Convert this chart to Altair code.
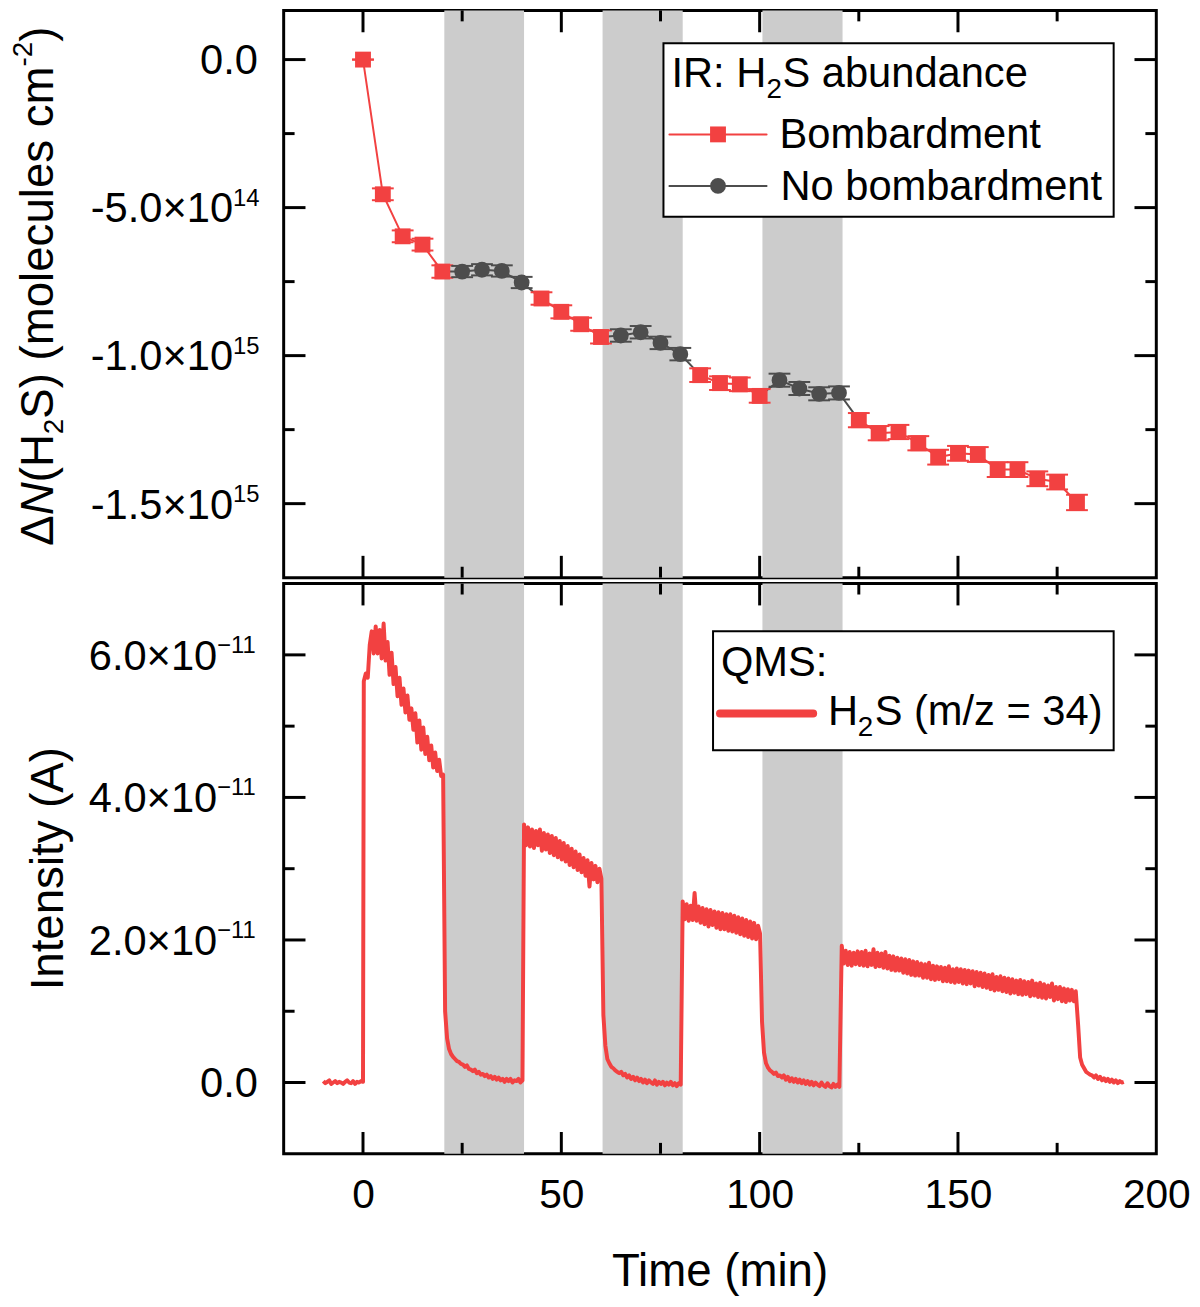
import altair as alt
import pandas as pd

FONT = "Liberation Sans"
RED = "#F24141"
DARK = "#4D4D4D"
BAND = "#CCCCCC"

W = 880
H_TOP = 572
H_BOT = 575

# ---------------- IR: H2S abundance (top panel) ----------------
bomb_t = [0, 5, 10, 15, 20, 45, 50, 55, 60, 85, 90, 95, 100,
          125, 130, 135, 140, 145, 150, 155, 160, 165, 170, 175, 180]
bomb_n = [0.0, -4.55e14, -5.97e14, -6.25e14, -7.16e14,
          -8.07e14, -8.52e14, -8.94e14, -9.37e14,
          -1.066e15, -1.093e15, -1.097e15, -1.136e15,
          -1.218e15, -1.262e15, -1.258e15, -1.296e15, -1.343e15, -1.330e15,
          -1.334e15, -1.385e15, -1.385e15, -1.416e15, -1.427e15, -1.496e15]
bomb_err = [0.0, 2.0e13, 2.0e13, 2.0e13, 2.1e13,
            2.1e13, 2.2e13, 2.2e13, 2.2e13,
            2.3e13, 2.3e13, 2.3e13, 2.3e13,
            2.4e13, 2.4e13, 2.4e13, 2.4e13, 2.5e13, 2.5e13,
            2.5e13, 2.5e13, 2.5e13, 2.5e13, 2.5e13, 2.6e13]
bomb_run = [1] * 5 + [2] * 4 + [3] * 4 + [4] * 12

nob_t = [25, 30, 35, 40, 65, 70, 75, 80, 105, 110, 115, 120]
nob_n = [-7.16e14, -7.10e14, -7.14e14, -7.53e14,
         -9.32e14, -9.21e14, -9.57e14, -9.95e14,
         -1.083e15, -1.111e15, -1.129e15, -1.126e15]
nob_err = [1.9e13] * 4 + [2.1e13] * 4 + [2.2e13] * 4
nob_run = [1] * 4 + [2] * 4 + [3] * 4

# beam-off windows (min)
band_start = [20.5, 60.4, 100.7]
band_end = [40.6, 80.6, 120.9]

# ---------------- QMS m/z = 34 (bottom panel), units of 1e-11 A ----------------
QMS_STEP = 0.5
qms_start = [-10.0, 0.2, 20.7, 40.6, 60.6, 80.6, 100.6, 120.7, 180.3]
qms_base0 = [0.02, -0.01, 0.01, 0.03, -0.02, 0.00, 0.02, -0.01, 0.01, 0.00,
             -0.02, 0.01, 0.03, 0.00, -0.01, 0.02, -0.02, 0.01, 0.00, 0.02, 0.01]
qms_on1 = [5.63, 5.74, 5.68, 6.14, 6.33, 6.02, 6.40, 6.02, 6.35, 5.95,
           6.44, 5.92, 6.18, 5.72, 6.03, 5.59, 5.83, 5.42, 5.68, 5.30,
           5.53, 5.19, 5.43, 5.09, 5.25, 4.95, 5.18, 4.77, 5.08, 4.67,
           4.98, 4.61, 4.85, 4.52, 4.73, 4.42, 4.63, 4.37, 4.53, 4.30, 4.32]
qms_off1 = [1.00, 0.62, 0.47, 0.40, 0.36, 0.33, 0.30, 0.29, 0.26, 0.25,
            0.22, 0.24, 0.19, 0.18, 0.16, 0.18, 0.13, 0.15, 0.11, 0.12,
            0.09, 0.11, 0.07, 0.09, 0.05, 0.08, 0.04, 0.07, 0.03, 0.05,
            0.01, 0.05, 0.02, 0.05, 0.00, 0.03, 0.02, 0.05, 0.00, 0.03]
qms_on2 = [3.62, 3.33, 3.58, 3.31, 3.55, 3.29, 3.53, 3.33, 3.55, 3.25,
           3.50, 3.27, 3.48, 3.22, 3.46, 3.19, 3.43, 3.16, 3.39, 3.13,
           3.36, 3.10, 3.32, 3.05, 3.28, 3.02, 3.24, 2.98, 3.20, 2.95,
           3.15, 2.90, 3.12, 2.75, 3.08, 2.85, 3.04, 2.81, 3.00, 2.86]
qms_off2 = [0.95, 0.52, 0.33, 0.27, 0.22, 0.20, 0.17, 0.15, 0.13, 0.15,
            0.10, 0.12, 0.07, 0.10, 0.05, 0.08, 0.03, 0.07, 0.02, 0.05,
            0.00, 0.04, -0.01, 0.03, 0.00, -0.02, 0.03, -0.03, 0.01, -0.02,
            0.01, -0.04, 0.00, -0.03, 0.01, -0.04, -0.01, -0.05, -0.01, -0.03]
qms_on3 = [2.54, 2.29, 2.50, 2.27, 2.48, 2.28, 2.66, 2.27, 2.47, 2.24,
           2.45, 2.22, 2.43, 2.19, 2.42, 2.21, 2.40, 2.17, 2.39, 2.15,
           2.38, 2.15, 2.36, 2.13, 2.36, 2.12, 2.34, 2.10, 2.32, 2.08,
           2.30, 2.06, 2.28, 2.04, 2.26, 2.02, 2.24, 2.01, 2.20, 2.09]
qms_off3 = [0.85, 0.42, 0.27, 0.21, 0.17, 0.15, 0.12, 0.14, 0.09, 0.10,
            0.07, 0.10, 0.04, 0.08, 0.02, 0.06, 0.01, 0.05, 0.00, 0.04,
            -0.01, 0.03, -0.02, 0.02, -0.03, 0.01, -0.04, 0.00, -0.03, -0.05,
            0.00, -0.04, -0.06, -0.01, -0.05, -0.07, -0.02, -0.06, -0.03, -0.06]
qms_on4 = [1.92, 1.67, 1.85, 1.65, 1.83, 1.64, 1.82, 1.66, 1.84, 1.65,
           1.83, 1.64, 1.85, 1.63, 1.81, 1.65, 1.87, 1.62, 1.82, 1.63,
           1.81, 1.61, 1.83, 1.60, 1.78, 1.58, 1.77, 1.57, 1.75, 1.57,
           1.74, 1.54, 1.73, 1.53, 1.72, 1.51, 1.70, 1.50, 1.69, 1.50,
           1.67, 1.47, 1.66, 1.47, 1.68, 1.45, 1.64, 1.44, 1.63, 1.45,
           1.62, 1.42, 1.61, 1.42, 1.63, 1.41, 1.59, 1.40, 1.60, 1.41,
           1.59, 1.39, 1.58, 1.38, 1.57, 1.39, 1.56, 1.35, 1.55, 1.36,
           1.54, 1.34, 1.53, 1.33, 1.51, 1.31, 1.52, 1.29, 1.48, 1.30,
           1.49, 1.28, 1.47, 1.27, 1.46, 1.25, 1.45, 1.26, 1.43, 1.24,
           1.44, 1.23, 1.42, 1.24, 1.41, 1.21, 1.43, 1.22, 1.39, 1.20,
           1.40, 1.19, 1.38, 1.18, 1.36, 1.20, 1.39, 1.15, 1.34, 1.17,
           1.34, 1.14, 1.32, 1.13, 1.31, 1.15, 1.30, 1.14, 1.28]
qms_off4 = [0.80, 0.35, 0.25, 0.20, 0.15, 0.13, 0.11, 0.10, 0.07, 0.10,
            0.05, 0.08, 0.03, 0.06, 0.02, 0.05, 0.01, 0.04, 0.00, 0.03,
            -0.01, 0.02, 0.00, 0.01]
qms_parts = [qms_base0, qms_on1, qms_off1, qms_on2, qms_off2,
             qms_on3, qms_off3, qms_on4, qms_off4]

# axis ticks / labels
x_major = [0, 50, 100, 150]
x_minor = [25, 75, 125, 175]
top_major = [0.0, -5e14, -1e15, -1.5e15]
top_minor = [-2.5e14, -7.5e14, -1.25e15]
top_main = ["0.0", "-5.0×10", "-1.0×10", "-1.5×10"]
top_sup = ["", "14", "15", "15"]
bot_major = [0.0, 2e-11, 4e-11, 6e-11]
bot_minor = [1e-11, 3e-11, 5e-11]
bot_main = ["0.0", "2.0×10", "4.0×10", "6.0×10"]
bot_sup = ["", "−11", "−11", "−11"]

# ---------------- frames ----------------
bomb = pd.DataFrame({"t": bomb_t, "v": bomb_n, "run": bomb_run})
bomb["lo"] = bomb["v"] - pd.Series(bomb_err)
bomb["hi"] = bomb["v"] + pd.Series(bomb_err)
nob = pd.DataFrame({"t": nob_t, "v": nob_n, "run": nob_run})
nob["lo"] = nob["v"] - pd.Series(nob_err)
nob["hi"] = nob["v"] + pd.Series(nob_err)

# grey connector: last bombarded point -> beam-off points -> next bombarded point
grey_rows = []
for r in sorted(set(nob_run)):
    prev = bomb[bomb["run"] == r].iloc[-1]
    nxt = bomb[bomb["run"] == r + 1].iloc[0]
    grey_rows.append((prev["t"], prev["v"], r))
    for _, p in nob[nob["run"] == r].iterrows():
        grey_rows.append((p["t"], p["v"], r))
    grey_rows.append((nxt["t"], nxt["v"], r))
grey = pd.DataFrame(grey_rows, columns=["t", "v", "run"])

qms_rows = []
for t0, part in zip(qms_start, qms_parts):
    for i, val in enumerate(part):
        qms_rows.append((t0 + i * QMS_STEP, val * 1e-11))
qms = pd.DataFrame(qms_rows, columns=["t", "v"])

bands = pd.DataFrame({"s": band_start, "e": band_end})
ONE = pd.DataFrame({"k": [0]})

XSCALE = alt.Scale(domain=[-20, 200], nice=False, zero=False)
TOP_Y = alt.Scale(domain=[-1.75e15, 1.66e14], nice=False, zero=False)
BOT_Y = alt.Scale(domain=[-1e-11, 7e-11], nice=False, zero=False)

X_AXIS = alt.Axis(values=[0, 50, 100, 150, 200], labelFont=FONT, labelFontSize=41,
                  labelColor="black", labelPadding=22, ticks=False, domain=False,
                  grid=False, title=None, labelFlush=False, labelOverlap=False)


def xe(field, axis):
    return alt.X(field, type="quantitative", scale=XSCALE, axis=axis)


def ye(field, scale):
    return alt.Y(field, type="quantitative", scale=scale, axis=None)


def text_at(txt, x, y, size, **kw):
    opts = dict(align="left", baseline="alphabetic", font=FONT, fontSize=size, color="black")
    opts.update(kw)
    return alt.Chart(ONE).mark_text(text=txt, **opts).encode(x=alt.value(x), y=alt.value(y))


def box(x1, x2, y1, y2):
    return alt.Chart(ONE).mark_rect(fill="white", stroke="black", strokeWidth=2).encode(
        x=alt.value(x1), x2=alt.value(x2), y=alt.value(y1), y2=alt.value(y2))


def hline(x1, x2, y, color, width):
    return alt.Chart(ONE).mark_rule(color=color, strokeWidth=width, strokeCap="round").encode(
        x=alt.value(x1), x2=alt.value(x2), y=alt.value(y))


def band_layer(h, axis):
    return alt.Chart(bands).mark_rect(color=BAND).encode(
        x=xe("s", axis), x2=alt.X2("e"), y=alt.value(0), y2=alt.value(h))


def frame_ticks(ymaj, ymin, yscale, h, axis):
    out = []
    for vals, ln in ((x_major, 22), (x_minor, 11)):
        d = pd.DataFrame({"t": vals})
        out.append(alt.Chart(d).mark_rule(color="black", strokeWidth=3).encode(
            x=xe("t", axis), y=alt.value(0), y2=alt.value(ln)))
        out.append(alt.Chart(d).mark_rule(color="black", strokeWidth=3).encode(
            x=xe("t", axis), y=alt.value(h - ln), y2=alt.value(h)))
    for vals, ln in ((ymaj, 22), (ymin, 11)):
        d = pd.DataFrame({"v": vals})
        out.append(alt.Chart(d).mark_rule(color="black", strokeWidth=3).encode(
            y=ye("v", yscale), x=alt.value(0), x2=alt.value(ln)))
        out.append(alt.Chart(d).mark_rule(color="black", strokeWidth=3).encode(
            y=ye("v", yscale), x=alt.value(W - ln), x2=alt.value(W)))
    return out


def y_labels(vals, mains, sups, yscale, main_right):
    d = pd.DataFrame({"v": vals, "main": mains, "sup": sups})
    plain = d[d["sup"] == ""]
    expo = d[d["sup"] != ""]
    base = dict(font=FONT, color="black")
    return [
        alt.Chart(plain).mark_text(align="right", baseline="middle", dy=2, fontSize=42, **base)
        .encode(y=ye("v", yscale), x=alt.value(-26), text="main:N"),
        alt.Chart(expo).mark_text(align="right", baseline="middle", dy=2, fontSize=42, **base)
        .encode(y=ye("v", yscale), x=alt.value(main_right), text="main:N"),
        alt.Chart(expo).mark_text(align="left", baseline="alphabetic", dy=-2, fontSize=24, **base)
        .encode(y=ye("v", yscale), x=alt.value(main_right), text="sup:N"),
    ]


# rotated y title with italic N and sub/superscripts: (text, size, style, shift, em width)
title_pieces = [
    ("Δ", 46, "normal", 0, 0.667),
    ("N", 46, "italic", 0, 0.722),
    ("(H", 46, "normal", 0, 1.055),
    ("2", 28, "normal", 10, 0.556),
    ("S) (molecules cm", 46, "normal", 0, 7.723),
    ("-2", 28, "normal", -21, 0.889),
    (")", 46, "normal", 0, 0.333),
]


def top_title(x_base, y_center):
    total = sum(s * w for _, s, _, _, w in title_pieces)
    y = y_center + total / 2
    out = []
    for txt, s, style, shift, w in title_pieces:
        out.append(text_at(txt, x_base + shift, y, s, angle=270, fontStyle=style))
        y -= s * w
    return out


# ---------------- top panel ----------------
TX = None
top_layers = [band_layer(H_TOP, TX)]
top_layers.append(alt.Chart(bomb).mark_line(color=RED, strokeWidth=2).encode(
    x=xe("t", TX), y=ye("v", TOP_Y), detail="run:N"))
top_layers.append(alt.Chart(grey).mark_line(color=DARK, strokeWidth=2).encode(
    x=xe("t", TX), y=ye("v", TOP_Y), detail="run:N"))
for df, col in ((bomb, RED), (nob, DARK)):
    top_layers.append(alt.Chart(df).mark_rule(color=col, strokeWidth=1.5).encode(
        x=xe("t", TX), y=ye("lo", TOP_Y), y2="hi"))
    for f in ("lo", "hi"):
        top_layers.append(alt.Chart(df).mark_tick(color=col, orient="horizontal", size=22,
                                                   thickness=2, opacity=1).encode(
            x=xe("t", TX), y=ye(f, TOP_Y)))
top_layers.append(alt.Chart(bomb).mark_square(size=256, color=RED, opacity=1).encode(
    x=xe("t", TX), y=ye("v", TOP_Y)))
top_layers.append(alt.Chart(nob).mark_circle(size=254, color=DARK, opacity=1).encode(
    x=xe("t", TX), y=ye("v", TOP_Y)))
top_layers += frame_ticks(top_major, top_minor, TOP_Y, H_TOP, TX)
top_layers += [
    box(383, 837, 33, 208),
    text_at("IR: H", 391, 77, 42),
    text_at("2", 487, 88, 28),
    text_at("S abundance", 503, 77, 42),
    hline(389, 487, 125, RED, 2),
    alt.Chart(ONE).mark_square(size=256, color=RED, opacity=1).encode(
        x=alt.value(438), y=alt.value(125)),
    text_at("Bombardment", 500, 139, 42),
    hline(389, 487, 177, DARK, 2),
    alt.Chart(ONE).mark_circle(size=254, color=DARK, opacity=1).encode(
        x=alt.value(438), y=alt.value(177)),
    text_at("No bombardment", 501, 191, 42),
]
top_layers += y_labels(top_major, top_main, top_sup, TOP_Y, -51)
top_layers += top_title(-233, 278)

top = alt.layer(*top_layers).properties(width=W, height=H_TOP)

# ---------------- bottom panel ----------------
BX = X_AXIS
bot_layers = [band_layer(H_BOT, BX)]
bot_layers.append(alt.Chart(qms).mark_line(color=RED, strokeWidth=4, strokeJoin="round").encode(
    x=xe("t", BX), y=ye("v", BOT_Y)))
bot_layers += frame_ticks(bot_major, bot_minor, BOT_Y, H_BOT, BX)
bot_layers += [
    box(433, 837, 48, 168),
    text_at("QMS:", 441, 93, 42),
    hline(440, 534, 131, RED, 8),
    text_at("H", 549, 143, 42),
    text_at("2", 579, 154, 28),
    text_at("S (m/z = 34)", 596, 143, 42),
]
bot_layers += y_labels(bot_major, bot_main, bot_sup, BOT_Y, -67)
bot_layers.append(text_at("Intensity (A)", -223, H_BOT / 2, 46, angle=270, align="center"))
bot_layers.append(text_at("Time (min)", W / 2, H_BOT + 133, 46, align="center"))

bottom = alt.layer(*bot_layers).properties(width=W, height=H_BOT)

chart = (
    alt.vconcat(top, bottom, spacing=0)
    .properties(padding={"left": 0, "top": -6, "right": 0, "bottom": 0})
    .configure_view(stroke="black", strokeWidth=3)
)

chart.save("out.html", embed_options={"renderer": "svg", "actions": False})
